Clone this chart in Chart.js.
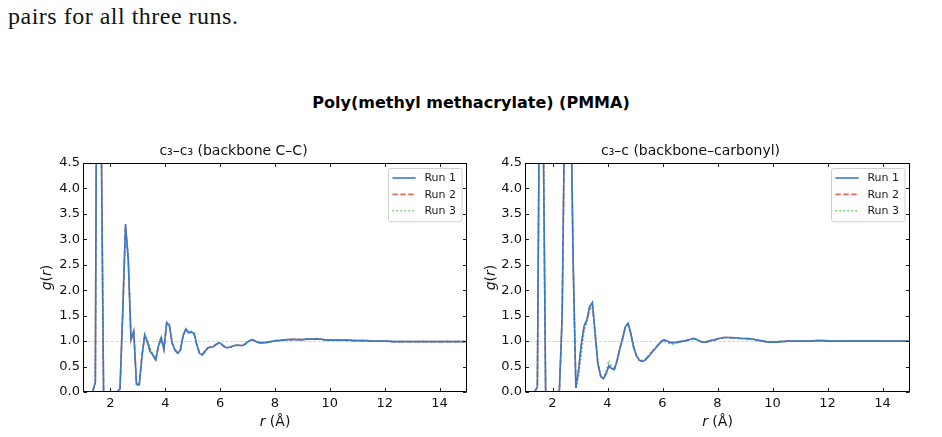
<!DOCTYPE html>
<html>
<head>
<meta charset="utf-8">
<script src="https://cdn.jsdelivr.net/npm/chart.js@4.4.1/dist/chart.umd.min.js"></script>
<style>
  html, body { margin:0; padding:0; background:#fff; }
  body { width:942px; height:437px; position:relative; overflow:hidden; }
  #intro { position:absolute; left:8px; top:3px; font-family:'Liberation Serif', serif; font-size:24px; letter-spacing:0.5px; color:#111; white-space:nowrap; }
  #sup { position:absolute; left:0; width:942px; top:93px; text-align:center; font-family:'DejaVu Sans', sans-serif; font-weight:bold; font-size:16px; color:#000; white-space:nowrap; }
  canvas { position:absolute; top:140px; }
</style>
</head>
<body>
<div id="intro">pairs for all three runs.</div>
<div id="sup">Poly(methyl methacrylate) (PMMA)</div>
<canvas id="c1" width="471" height="297" style="left:0px"></canvas>
<canvas id="c2" width="471" height="297" style="left:471px"></canvas>
<script>
// ---------------- DATA ----------------
const rGrid = [
  1.05,1.15,1.25,1.35,1.45,1.55,1.65,1.75,1.85,1.95,
  2.05,2.15,2.25,2.35,2.45,2.55,2.65,2.75,2.85,2.95,
  3.05,3.15,3.25,3.35,3.45,3.55,3.65,3.75,3.85,3.95,
  4.05,4.15,4.25,4.35,4.45,4.55,4.65,4.75,4.85,4.95,
  5.05,5.15,5.25,5.35,5.45,5.55,5.65,5.75,5.85,5.95,
  6.05,6.15,6.25,6.35,6.45,6.55,6.65,6.75,6.85,6.95,
  7.05,7.15,7.25,7.35,7.45,7.55,7.65,7.75,7.85,7.95,
  8.05,8.15,8.25,8.35,8.45,8.55,8.65,8.75,8.85,8.95,
  9.05,9.15,9.25,9.35,9.45,9.55,9.65,9.75,9.85,9.95,
  10.05,10.15,10.25,10.35,10.45,10.55,10.65,10.75,10.85,10.95,
  11.05,11.15,11.25,11.35,11.45,11.55,11.65,11.75,11.85,11.95,
  12.05,12.15,12.25,12.35,12.45,12.55,12.65,12.75,12.85,12.95,
  13.05,13.15,13.25,13.35,13.45,13.55,13.65,13.75,13.85,13.95,
  14.05,14.15,14.25,14.35,14.45,14.55,14.65,14.75,14.85,14.95
];

const runLabels = ['Run 1', 'Run 2', 'Run 3'];
const xTickValues = [2, 4, 6, 8, 10, 12, 14];
const yTickValues = [0, 0.5, 1.0, 1.5, 2.0, 2.5, 3.0, 3.5, 4.0, 4.5];
const panelTitles = ['c\u2083\u2013c\u2083 (backbone C\u2013C)', 'c\u2083\u2013c (backbone\u2013carbonyl)'];

// c3-c3 (backbone C-C)
const c3c3Run1 = [
  0,0,0,0,0.2,14,6,0,0,0,
  0,0,0,0.07,1.6,3.3,2.6,1.04,1.19,0.15,
  0.14,0.7,1.12,0.98,0.8,0.72,0.63,0.9,1.07,0.84,
  1.36,1.31,0.96,0.83,0.76,0.82,1.1,1.24,1.17,1.18,
  1.15,0.93,0.76,0.73,0.8,0.87,0.88,0.89,0.93,0.97,
  0.94,0.89,0.87,0.88,0.9,0.92,0.92,0.91,0.92,0.96,
  1.0,1.03,1.01,0.98,0.97,0.97,0.97,0.98,0.99,1.0,
  1.01,1.01,1.02,1.02,1.03,1.03,1.03,1.03,1.03,1.03,
  1.03,1.04,1.04,1.04,1.04,1.04,1.04,1.03,1.02,1.02,
  1.02,1.02,1.02,1.02,1.02,1.02,1.02,1.02,1.01,1.01,
  1.01,1.01,1.01,1.01,1.0,1.0,1.0,1.0,1.0,1.0,
  1.0,1.0,0.99,0.99,0.99,0.99,0.99,0.99,0.99,0.99,
  0.99,0.99,0.99,0.99,0.99,0.99,0.99,0.99,0.99,0.99,
  0.99,0.99,0.99,0.99,0.99,0.99,0.99,0.99,0.99,0.99
];
const c3c3Run2 = [
  0,0,0,0,0.19,13.8,6.1,0,0,0,
  0,0,0,0.06,1.55,3.25,2.62,1.02,1.2,0.16,
  0.15,0.72,1.1,0.97,0.79,0.73,0.62,0.88,1.05,0.83,
  1.34,1.3,0.97,0.84,0.77,0.83,1.12,1.23,1.16,1.17,
  1.14,0.92,0.75,0.74,0.81,0.86,0.88,0.9,0.94,0.96,
  0.93,0.89,0.88,0.88,0.9,0.91,0.92,0.92,0.93,0.96,
  1.0,1.02,1.01,0.98,0.97,0.96,0.97,0.98,0.99,1.0,
  1.01,1.02,1.02,1.02,1.03,1.03,1.04,1.03,1.03,1.03,
  1.03,1.04,1.04,1.04,1.04,1.05,1.04,1.03,1.02,1.02,
  1.02,1.02,1.02,1.02,1.02,1.02,1.01,1.02,1.01,1.01,
  1.01,1.01,1.01,1.0,1.0,1.0,1.0,1.0,1.0,1.0,
  1.0,0.99,0.99,0.99,0.99,0.99,0.99,0.99,0.99,0.99,
  0.99,0.99,0.99,0.99,0.99,0.99,0.99,0.99,0.99,0.99,
  0.99,0.99,0.99,0.99,0.99,0.99,0.99,0.99,0.99,0.99
];
const c3c3Run3 = [
  0,0,0,0,0.21,14.2,5.9,0,0,0,
  0,0,0,0.08,1.62,3.2,2.7,1.06,1.17,0.14,
  0.13,0.68,1.13,1.0,0.86,0.74,0.64,0.92,1.08,0.86,
  1.37,1.33,0.95,0.82,0.76,0.81,1.09,1.25,1.18,1.19,
  1.16,0.94,0.77,0.72,0.79,0.87,0.89,0.89,0.92,0.97,
  0.95,0.9,0.87,0.87,0.89,0.92,0.93,0.91,0.92,0.95,
  1.0,1.03,1.02,0.98,0.96,0.97,0.97,0.98,0.99,1.0,
  1.01,1.01,1.02,1.03,1.03,1.03,1.03,1.04,1.03,1.03,
  1.03,1.04,1.04,1.04,1.05,1.04,1.04,1.03,1.03,1.02,
  1.02,1.02,1.02,1.02,1.02,1.02,1.02,1.02,1.01,1.01,
  1.01,1.01,1.01,1.01,1.0,1.0,1.0,1.0,1.0,1.0,
  1.0,1.0,1.0,0.99,0.99,0.99,0.99,0.99,1.0,0.99,
  0.99,0.99,0.99,1.0,0.99,0.99,0.99,0.99,0.99,0.99,
  0.99,0.99,1.0,0.99,0.99,0.99,0.99,0.99,0.99,0.99
];

// c3-c (backbone-carbonyl)
const c3cRun1 = [
  0,0,0,0,0.1,8,6,0,0,0,
  0,0,0.02,1.5,6,9,6.4,2.6,0.08,0.45,
  0.95,1.3,1.42,1.68,1.76,1.15,0.55,0.32,0.26,0.36,
  0.52,0.46,0.44,0.62,0.85,1.05,1.28,1.35,1.15,0.88,
  0.72,0.63,0.6,0.62,0.67,0.73,0.8,0.86,0.93,0.99,
  1.02,1.01,0.98,0.97,0.97,0.98,0.99,1.0,1.01,1.02,
  1.04,1.05,1.03,1.0,0.98,0.98,0.99,1.01,1.02,1.03,
  1.05,1.06,1.07,1.07,1.07,1.06,1.06,1.06,1.05,1.05,
  1.05,1.05,1.04,1.03,1.02,1.01,1.0,0.99,0.98,0.98,
  0.98,0.98,0.99,0.99,0.99,1.0,1.0,1.0,1.0,1.0,
  1.0,1.0,1.0,1.0,1.0,1.01,1.01,1.01,1.01,1.01,
  1.0,1.0,1.0,1.0,1.0,1.0,1.0,1.0,1.0,1.0,
  1.0,1.0,1.0,1.0,1.0,1.0,1.0,1.0,1.0,1.0,
  1.0,1.0,1.0,1.0,1.0,1.0,1.0,1.0,1.0,1.0
];
const c3cRun2 = [
  0,0,0,0,0.1,7.9,6.1,0,0,0,
  0,0,0.02,1.45,5.9,9.1,6.3,2.5,0.1,0.42,
  0.92,1.28,1.4,1.66,1.74,1.13,0.56,0.3,0.27,0.37,
  0.5,0.45,0.45,0.63,0.86,1.06,1.29,1.34,1.13,0.87,
  0.71,0.62,0.61,0.63,0.68,0.74,0.81,0.87,0.94,1.0,
  1.02,1.0,0.97,0.97,0.97,0.98,0.99,1.0,1.01,1.03,
  1.05,1.05,1.02,1.0,0.98,0.98,0.99,1.01,1.02,1.04,
  1.05,1.06,1.07,1.07,1.07,1.07,1.06,1.06,1.05,1.05,
  1.05,1.04,1.04,1.03,1.02,1.01,1.0,0.99,0.99,0.98,
  0.98,0.98,0.99,0.99,1.0,1.0,1.0,1.0,1.0,1.0,
  1.0,1.0,1.0,1.0,1.0,1.0,1.01,1.01,1.01,1.0,
  1.0,1.0,1.0,1.0,1.0,1.0,1.0,1.0,1.0,1.0,
  1.0,1.0,1.0,1.0,1.0,1.0,1.0,1.0,1.0,1.0,
  1.0,1.0,1.0,1.0,1.0,1.0,1.0,1.0,1.0,1.0
];
const c3cRun3 = [
  0,0,0,0,0.11,8.1,5.9,0,0,0,
  0,0,0.02,1.4,5.8,8.8,6.5,2.7,0.06,0.3,
  0.75,1.2,1.38,1.6,1.68,1.18,0.6,0.34,0.27,0.4,
  0.62,0.5,0.45,0.6,0.84,1.04,1.27,1.33,1.14,0.9,
  0.74,0.65,0.62,0.63,0.69,0.76,0.82,0.87,0.93,0.98,
  1.0,0.98,0.95,0.94,0.95,0.97,0.99,1.0,1.01,1.02,
  1.04,1.05,1.03,1.0,0.98,0.99,1.0,1.01,1.02,1.03,
  1.05,1.06,1.06,1.07,1.07,1.06,1.06,1.05,1.05,1.05,
  1.04,1.04,1.04,1.03,1.02,1.01,1.0,0.99,0.99,0.99,
  0.99,0.99,0.99,1.0,1.0,1.0,1.0,1.0,1.0,1.0,
  1.0,1.0,1.0,1.0,1.0,1.01,1.01,1.01,1.01,1.01,
  1.0,1.0,1.0,1.0,1.0,1.0,1.01,1.01,1.01,1.01,
  1.01,1.01,1.01,1.01,1.01,1.01,1.01,1.01,1.01,1.0,
  1.0,1.0,1.0,1.0,1.0,1.0,1.0,1.0,1.0,1.0
];

// ---------------- STYLES ----------------
const runColors = ['#3a78c9', '#e8685c', '#5cc35c'];
const runDashes = [[], [5.5, 2.4], [1.5, 2.5]];
const FONT = "'DejaVu Sans', sans-serif";
Chart.defaults.font.family = FONT;

function pts(vals) { return rGrid.map((x, i) => ({ x: x, y: vals[i] })); }

function makeDatasets(series) {
  return series.map((vals, k) => ({
    label: runLabels[k],
    data: pts(vals),
    borderColor: runColors[k],
    backgroundColor: runColors[k],
    borderDash: runDashes[k],
    borderWidth: 1.6,
    borderCapStyle: 'butt',
    pointRadius: 0,
    tension: 0,
    fill: false
  }));
}

// reference line at g(r)=1, drawn under the data
const refLinePlugin = {
  id: 'refLine',
  beforeDatasetsDraw(chart) {
    const { ctx, chartArea: a, scales: { y } } = chart;
    const py = Math.round(y.getPixelForValue(1)) + 0.5;
    ctx.save();
    ctx.strokeStyle = '#c8c8c8';
    ctx.lineWidth = 0.8;
    ctx.setLineDash([3, 1.6]);
    ctx.beginPath();
    ctx.moveTo(a.left, py);
    ctx.lineTo(a.right, py);
    ctx.stroke();
    ctx.restore();
  }
};

// frame, inward ticks, legend, axis labels
const decorPlugin = {
  id: 'decor',
  afterDraw(chart, args, opts) {
    const { ctx, chartArea: a, scales: { x, y } } = chart;
    ctx.save();
    ctx.setLineDash([]);
    // frame
    ctx.strokeStyle = '#000';
    ctx.lineWidth = 1;
    const L = Math.round(a.left) + 0.5, R = Math.round(a.right) - 0.5;
    const T = Math.round(a.top) + 0.5, B = Math.round(a.bottom) - 0.5;
    ctx.strokeRect(L, T, R - L, B - T);
    // ticks
    const tl = 3.5;
    ctx.lineWidth = 0.9;
    ctx.beginPath();
    x.ticks.forEach(t => {
      const px = Math.round(x.getPixelForValue(t.value)) + 0.5;
      ctx.moveTo(px, B); ctx.lineTo(px, B - tl);
      ctx.moveTo(px, T); ctx.lineTo(px, T + tl);
    });
    y.ticks.forEach(t => {
      const py = Math.round(y.getPixelForValue(t.value)) + 0.5;
      ctx.moveTo(L, py); ctx.lineTo(L + tl, py);
      ctx.moveTo(R, py); ctx.lineTo(R - tl, py);
    });
    ctx.stroke();

    // legend
    const ds = chart.data.datasets;
    ctx.font = '11px ' + FONT;
    const textW = Math.max(...ds.map(d => ctx.measureText(d.label).width));
    const padL = 4.4, lineLen = 23.3, gap = 8.7, padR = 5.5;
    const boxW = padL + lineLen + gap + textW + padR;
    const rowH = 16.4, boxH = 10 + rowH * (ds.length - 1) + 10.5;
    const bx = a.right - 5.5 - boxW, by = a.top + 5;
    ctx.fillStyle = 'rgba(255,255,255,0.85)';
    ctx.strokeStyle = '#d0d0d0';
    ctx.lineWidth = 1;
    ctx.beginPath();
    if (ctx.roundRect) ctx.roundRect(bx + 0.5, by + 0.5, boxW, boxH, 2.5); else ctx.rect(bx + 0.5, by + 0.5, boxW, boxH);
    ctx.fill();
    ctx.stroke();
    ds.forEach((d, i) => {
      const cy = by + 10 + i * rowH;
      ctx.strokeStyle = d.borderColor;
      ctx.lineWidth = d.borderWidth;
      ctx.lineCap = 'butt';
      ctx.setLineDash(d.borderDash || []);
      ctx.beginPath();
      ctx.moveTo(bx + padL, cy);
      ctx.lineTo(bx + padL + lineLen, cy);
      ctx.stroke();
      ctx.setLineDash([]);
      ctx.fillStyle = '#1a1a1a';
      ctx.textAlign = 'left';
      ctx.textBaseline = 'middle';
      ctx.fillText(d.label, bx + padL + lineLen + gap, cy + 0.5);
    });

    // x-axis label: italic r, upright (Å)
    const lblSize = 14;
    const it = 'italic ' + lblSize + 'px ' + FONT, up = lblSize + 'px ' + FONT;
    ctx.fillStyle = '#111';
    ctx.textBaseline = 'middle';
    ctx.textAlign = 'left';
    const xParts = [['r', it], [' (\u00c5)', up]];
    let w = 0;
    xParts.forEach(p => { ctx.font = p[1]; w += ctx.measureText(p[0]).width; });
    let cx = (a.left + a.right) / 2 - w / 2;
    xParts.forEach(p => { ctx.font = p[1]; ctx.fillText(p[0], cx, opts.xLabelY); cx += ctx.measureText(p[0]).width; });

    // y-axis label: g(r)
    const yParts = [['g', it], ['(', up], ['r', it], [')', up]];
    w = 0;
    yParts.forEach(p => { ctx.font = p[1]; w += ctx.measureText(p[0]).width; });
    ctx.translate(opts.yLabelX, (a.top + a.bottom) / 2);
    ctx.rotate(-Math.PI / 2);
    cx = -w / 2;
    yParts.forEach(p => { ctx.font = p[1]; ctx.fillText(p[0], cx, 0); cx += ctx.measureText(p[0]).width; });
    ctx.restore();
  }
};

function makeChart(id, title, series, yAxisWidth, padRight, yLabelX) {
  return new Chart(document.getElementById(id), {
    type: 'line',
    data: { datasets: makeDatasets(series) },
    options: {
      responsive: false,
      animation: false,
      devicePixelRatio: 1,
      layout: { padding: { left: 0, right: padRight, top: 0, bottom: 0 } },
      plugins: {
        legend: { display: false },
        tooltip: { enabled: false },
        title: {
          display: true, text: title, color: '#111',
          font: { size: 14, weight: 'normal', family: FONT, lineHeight: 1.1 },
          padding: { top: 4, bottom: 3.6 }
        },
        decor: { xLabelY: 282, yLabelX: yLabelX }
      },
      scales: {
        x: {
          type: 'linear', min: 1, max: 15,
          afterBuildTicks: s => { s.ticks = xTickValues.map(v => ({ value: v })); },
          afterFit: s => { s.height = 45; },
          grid: { display: false, drawTicks: false },
          border: { display: false },
          ticks: { color: '#111', font: { size: 13 }, padding: 4, maxRotation: 0, callback: v => String(v) }
        },
        y: {
          type: 'linear', min: 0, max: 4.5,
          afterBuildTicks: s => { s.ticks = yTickValues.map(v => ({ value: v })); },
          afterFit: s => { s.width = yAxisWidth; },
          grid: { display: false, drawTicks: false },
          border: { display: false },
          ticks: { color: '#111', font: { size: 13 }, padding: 3, callback: v => Number(v).toFixed(1) }
        }
      }
    },
    plugins: [refLinePlugin, decorPlugin]
  });
}

makeChart('c1', panelTitles[0], [c3c3Run1, c3c3Run2, c3c3Run3], 83, 4, 47);
makeChart('c2', panelTitles[1], [c3cRun1, c3cRun2, c3cRun3], 54, 32, 20);
</script>
</body>
</html>
